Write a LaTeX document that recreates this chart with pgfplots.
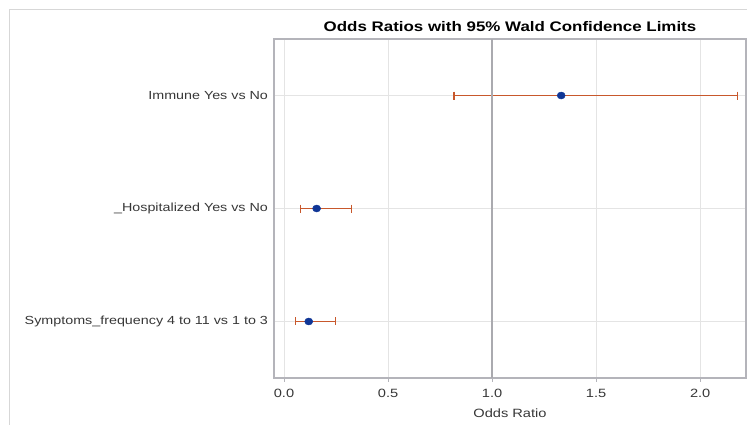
\documentclass[border=0pt]{standalone}
\usepackage{pgfplots}
\pgfplotsset{compat=1.18}
\usepackage{fontspec}
\setmainfont[FakeStretch=1.22]{Liberation Sans}
\definecolor{framegray}{RGB}{180,180,186}
\definecolor{gridgray}{RGB}{228,228,228}
\definecolor{refgray}{RGB}{170,170,175}
\definecolor{barorange}{RGB}{200,88,44}
\definecolor{dotblue}{RGB}{16,54,150}
\definecolor{txtgray}{RGB}{55,55,55}
\begin{document}
\begin{tikzpicture}[x=0.75pt,y=0.75pt]
% page size and outer frame
\path[use as bounding box] (0,0) rectangle (747,425);
\draw[color={rgb,255:red,215;green,215;blue,215}, line width=0.6pt] (9.5,0) -- (9.5,415.5) -- (747,415.5);
\begin{axis}[
    at={(274pt*0.75,47pt*0.75)}, anchor=south west,
    scale only axis,
    width=354pt, height=254.25pt,
    xmin=-0.048, xmax=2.22,
    ymin=0.5, ymax=3.5,
    xtick={0,0.5,1,1.5,2},
    xticklabels={0.0,0.5,1.0,1.5,2.0},
    ytick={1,2,3},
    yticklabels={Symptoms\_frequency 4 to 11 vs 1 to 3, \_Hospitalized Yes vs No, Immune Yes vs No},
    /pgf/number format/assume math mode=true,
    grid=major,
    major grid style={gridgray, line width=0.6pt},
    axis line style={framegray, line width=0.9pt},
    tick style={framegray},
    xtick pos=lower,
    xtick align=outside, major tick length=3pt,
    ytick style={draw=none},
    xticklabel style={font=\fontsize{9}{10}\selectfont, text=txtgray, yshift=-2pt},
    yticklabel style={font=\fontsize{8.8}{10}\selectfont, text=txtgray, xshift=-1pt},
    xlabel={Odds Ratio},
    xlabel style={font=\fontsize{9}{10}\selectfont, text=txtgray, yshift=-1.5pt},
    title={\textbf{Odds Ratios with 95\% Wald Confidence Limits}},
    title style={font=\fontsize{10.4}{12}\selectfont, yshift=-4pt},
    clip=false,
]
% 95% Wald confidence limits
\addplot[barorange, line width=1.3pt, no markers] coordinates {(0.817,3) (2.180,3)};
\addplot[barorange, line width=1.3pt, no markers] coordinates {(0.078,2) (0.325,2)};
\addplot[barorange, line width=1.3pt, no markers] coordinates {(0.056,1) (0.248,1)};
% caps at the limits
\addplot[only marks, mark=|, mark size=3pt, mark options={draw=barorange, line width=1pt}] coordinates {
    (0.817,3) (2.180,3) (0.078,2) (0.325,2) (0.056,1) (0.248,1)};
% reference line at odds ratio 1
\addplot[refgray, line width=1.3pt, forget plot] coordinates {(1,0.5) (1,3.5)};
% odds ratio estimates
\addplot[
    only marks,
    mark=*, mark size=2.6pt,
    mark options={fill=dotblue, draw=dotblue, xscale=1.15},
] coordinates {
    (1.332,3)
    (0.157,2)
    (0.119,1)
};
\end{axis}
\end{tikzpicture}
\end{document}
